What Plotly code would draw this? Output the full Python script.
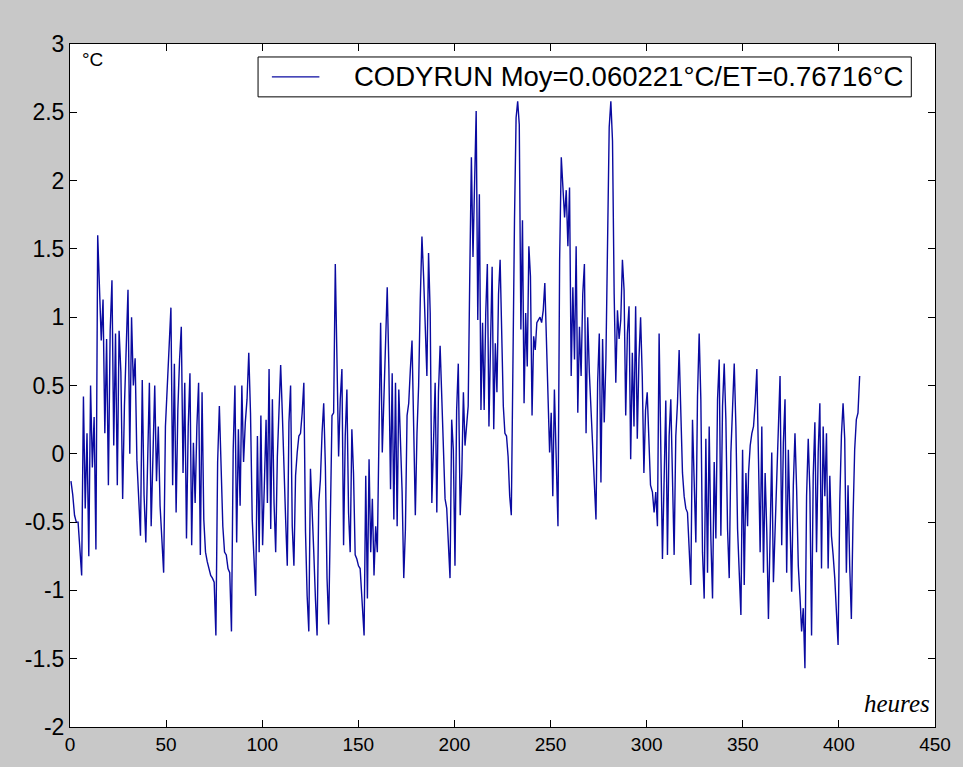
import numpy as np
import plotly.graph_objects as go

# Readings of the CODYRUN deviation (°C), in time order, segment by segment
seg1 = [-0.2, -0.3, -0.45, -0.5, -0.5, -0.68, -0.89, 0.42, -0.4, 0.15, -0.75, 0.5, -0.1, 0.27, -0.7,
        1.6, 1.22, 0.83, 1.13, 0.15, 0.84, -0.23, 0.9, 1.27, 0.06, 0.88, -0.23, 0.9, 0.6, -0.33, 0.35,
        0.8, 1.2, 0.0, 1.0, 0.5, 0.7, -0.05, -0.33, -0.6, 0.54, -0.3, -0.65, -0.1, 0.52, -0.53, 0.0,
        0.5, -0.2, 0.2, -0.38, -0.62, -0.87, 0.2, 0.5, 0.8]
seg2 = [1.07, -0.23, 0.66, -0.43, 0.32, 0.69, 0.93, -0.14, 0.52, -0.62, 0.2, 0.59, -0.67, 0.08, -0.36,
        0.2, 0.52, -0.74, 0.45, -0.48, -0.72, -0.79, -0.84, -0.89, -0.91, -0.94, -1.33, -0.06, 0.35,
        -0.02, -0.53, -0.72, -0.74, -0.84, -0.87, -1.3, 0.03, 0.5, -0.65, 0.18, -0.38, 0.5, -0.06, 0.23,
        0.4, 0.74, 0.3, -0.48, -0.77, -1.04, 0.13, -0.72, 0.28, -0.67, -0.23, 0.25]
seg3 = [-0.36, 0.62, -0.55, 0.4, -0.36, -0.72, -0.02, 0.4, 0.65, 0.3, -0.19, -0.48, -0.82, 0.23, 0.5,
        -0.53, -0.82, -0.16, 0.01, 0.13, 0.15, 0.3, 0.52, -0.57, -1.04, -1.3, -0.11, -0.36, -0.72, -1.06,
        -1.33, -0.36, -0.19, 0.15, 0.37, -0.09, -0.91, -1.25, -0.43, 0.28, 0.3, 1.39, 0.69, -0.02, 0.4,
        0.62, -0.67, 0.13, 0.47, -0.43, -0.72, 0.18, -0.14, -0.74, -0.77, -0.82, -0.84, -1.08]
seg4 = [-1.33, -0.16, -1.06, -0.04, -0.72, -0.33, -0.89, -0.53, -0.72, 0.13, 0.96, 0.01, 0.47, 0.93,
        1.22, 0.62, -0.26, 0.59, -0.48, 0.52, -0.53, 0.47, 0.15, -0.28, -0.91, -0.55, 0.28, 0.37, 0.62,
        0.83, 0.2, -0.45, 0.15, 0.5, 1.13, 1.59, 1.3, 0.86, 0.57, 1.47, 1.03, -0.36, 0.06, 0.52, -0.43,
        0.45, 0.79, 0.4, -0.11, -0.33, -0.4, -0.67, -0.91, 0.25, 0.03, -0.82, 0.32, 0.66]
seg5 = [-0.45, -0.14, 0.45, 0.06, 0.25, 0.35, 1.32, 2.17, 1.44, 1.95, 2.51, 0.98, 1.9, 0.32, 0.96, 0.32,
        1.03, 1.39, 0.2, 0.81, 1.37, 0.18, 0.81, 0.45, 1.17, 1.42, 0.79, 0.35, 0.15, 0.13, -0.02, -0.31,
        -0.45, 0.91, 1.71, 2.46, 2.58, 2.41, 0.91, 1.71, 0.37, 1.03, 0.64, 1.52, 1.3, 0.28, 0.86, 0.76,
        0.96, 0.98, 1.0, 0.96, 1.05, 1.25, 0.81, 0.32, 0.01, 0.3, -0.31, 0.47]
seg6 = [-0.16, -0.53, 1.42, 2.17, 1.95, 1.73, 1.93, 1.52, 1.95, 0.57, 1.22, 0.69, 1.52, 0.3, 0.93, 0.57,
        1.17, 1.39, 0.15, 1.0, 0.59, 0.35, 0.08, -0.21, -0.48, 0.52, 0.88, -0.21, 0.84, 0.23, 0.69, 1.54,
        2.39, 2.58, 2.29, 1.17, 0.52, 1.05, 0.84, 0.98, 1.42, 1.2, 0.28, 0.88, 1.08, -0.04, 0.74, 0.2,
        1.08, 0.11, 0.69, 1.0, 0.57, -0.14, 0.32, 0.45, 0.01, -0.23]
seg7 = [-0.28, -0.43, -0.28, -0.53, 0.88, 0.13, -0.77, -0.19, 0.39, -0.74, 0.13, 0.4, -0.16, -0.74, 0.13,
        0.37, 0.76, 0.37, -0.14, -0.31, -0.4, -0.43, -0.7, -0.96, 0.25, -0.31, -0.65, 0.42, 0.88, 0.4,
        -0.72, -1.06, 0.11, -0.87, 0.2, -0.62, -1.06, -0.06, -0.62, 0.4, 0.69, -0.6, 0.35, 0.66, 0.25,
        -0.55, -0.91, 0.01, 0.4, 0.66, 0.2, -0.55, -0.87, -1.18, 0.03, -0.96, -0.14, -0.53]
seg8 = [-0.14, 0.06, 0.15, 0.2, 0.37, 0.62, -0.04, -0.72, 0.2, -0.87, -0.14, -0.57, -1.21, -0.48, 0.01,
        -0.94, -0.55, -0.11, 0.3, 0.57, -0.67, 0.08, 0.4, -0.87, 0.03, -0.4, -1.01, -0.23, 0.15, -0.26,
        -0.82, -1.04, -1.3, -1.13, -1.57, -0.31, 0.11, -0.28, -1.33, -0.16, 0.23, -0.72, 0.01, 0.37,
        -0.84, 0.2, -0.31, 0.15, -0.84, -0.16, -0.6, -0.74, -0.91, -1.16, -1.4, -0.36, 0.13, 0.37, 0.11,
        -0.87, -0.23, -0.82, -1.21, -0.48, 0.03, 0.25, 0.3, 0.57]

segments = [seg1, seg2, seg3, seg4, seg5, seg6, seg7, seg8]
# first and last hour covered by each segment of readings
seg_start_hours = [0.5, 52.5, 102.7, 153.0, 203.0, 253.0, 303.0, 353.0]
seg_end_hours = [51.5, 102.0, 151.8, 202.0, 252.0, 302.0, 352.5, 410.8]

hours = np.concatenate([np.linspace(a, b, len(s))
                        for s, a, b in zip(segments, seg_start_hours, seg_end_hours)])
values = np.concatenate([np.array(s) for s in segments])

series_name = "CODYRUN Moy=0.060221°C/ET=0.76716°C"
x_ticks = [0, 50, 100, 150, 200, 250, 300, 350, 400, 450]
y_ticks = [-2, -1.5, -1, -0.5, 0, 0.5, 1, 1.5, 2, 2.5, 3]

line_color = "rgb(10,10,160)"

fig = go.Figure()
fig.add_trace(go.Scatter(
    x=hours, y=values, mode="lines",
    line=dict(color=line_color, width=1.4),
    name=series_name, showlegend=False,
))

axis_common = dict(
    showline=True, linecolor="black", linewidth=1, mirror="ticks",
    ticks="inside", ticklen=7, tickcolor="black", showgrid=False, zeroline=False,
)
fig.update_xaxes(range=[0, 450], tickvals=x_ticks,
                 tickfont=dict(family="Liberation Sans, Arial", size=19, color="black"),
                 **axis_common)
fig.update_yaxes(range=[-2, 3], tickvals=y_ticks,
                 ticktext=[f"{v:g}" for v in y_ticks],
                 tickfont=dict(family="Liberation Sans, Arial", size=23, color="black"),
                 **axis_common)

# MATLAB-style legend box drawn on top of the axes
legend_box = dict(x0=0.2174, x1=0.9726, y0=0.9226, y1=0.981)
legend_mid = (legend_box["y0"] + legend_box["y1"]) / 2
fig.update_layout(
    width=963, height=767,
    margin=dict(l=70, r=19, t=44, b=38),
    paper_bgcolor="#c8c8c8", plot_bgcolor="white",
    showlegend=False,
    shapes=[
        dict(type="rect", xref="paper", yref="paper", layer="above",
             fillcolor="white", line=dict(color="black", width=1), **legend_box),
        dict(type="line", xref="paper", yref="paper", layer="above",
             x0=0.2334, x1=0.2883, y0=legend_mid, y1=legend_mid,
             line=dict(color=line_color, width=1.4)),
    ],
    annotations=[
        dict(text=series_name, xref="paper", yref="paper", x=0.3261, y=legend_mid,
             xanchor="left", yanchor="middle", showarrow=False,
             font=dict(family="Liberation Sans, Arial", size=27.5, color="black")),
        dict(text="°C", xref="paper", yref="paper", x=0.011, y=0.995,
             xanchor="left", yanchor="top", showarrow=False,
             font=dict(family="Liberation Sans, Arial", size=19, color="black")),
        dict(text="<i>heures</i>", xref="paper", yref="paper", x=0.997, y=0.012,
             xanchor="right", yanchor="bottom", showarrow=False,
             font=dict(family="Liberation Serif, Times New Roman", size=25, color="black")),
    ],
)

fig.write_html("out.html",
               config={"displayModeBar": False},
               post_script="document.body.style.margin='0';"
                           "document.body.style.background='#c8c8c8';")
